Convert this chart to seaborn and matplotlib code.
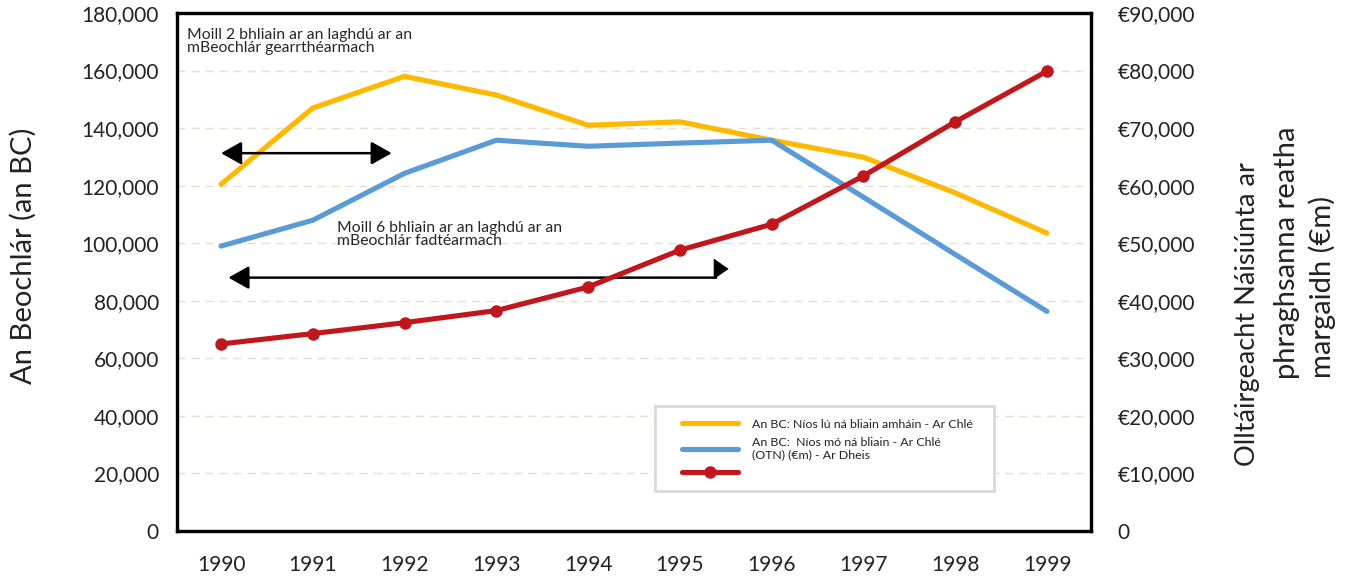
import matplotlib
matplotlib.use("Agg")
import matplotlib.pyplot as plt
import seaborn as sns
from matplotlib.ticker import FuncFormatter, FixedLocator
from matplotlib.lines import Line2D
from matplotlib.legend_handler import HandlerLine2D

# ---------------- data ----------------
years = [1990, 1991, 1992, 1993, 1994, 1995, 1996, 1997, 1998, 1999]
year_labels = [str(y) for y in years]

# An BC: less than one year (left axis)
short_term = [120500, 147000, 158000, 151500, 141000, 142200, 135800, 129900, 117500, 103500]
# An BC: more than one year (left axis)
long_term = [99000, 108000, 124300, 135800, 133700, 134800, 135800, 116000, 96100, 76300]
# GNP at current market prices, EUR m (right axis)
gnp = [32500, 34300, 36200, 38300, 42400, 48800, 53300, 61700, 71100, 79900]

left_ticks = [0, 20000, 40000, 60000, 80000, 100000, 120000, 140000, 160000, 180000]
right_ticks = [0, 10000, 20000, 30000, 40000, 50000, 60000, 70000, 80000, 90000]

label_short = "An BC: Níos lú ná bliain amháin - Ar Chlé   "
label_long = "An BC:  Níos mó ná bliain - Ar Chlé\n(OTN) (€m) - Ar Dheis"
label_gnp = ""

left_title = "An Beochlár (an BC)"
right_title_lines = ["Olltáirgeacht Náisiúnta ar", "phraghsanna reatha", "margaidh (€m)"]
note_short = "Moill 2 bhliain ar an laghdú ar an\nmBeochlár gearrthéarmach"
note_long = "Moill 6 bhliain ar an laghdú ar an\nmBeochlár fadtéarmach"

# annotation arrow anchors (data units)
short_arrow = dict(x0=1990.0, x1=1991.86, y=131300)
long_arrow = dict(x0=1990.08, xc=1995.39, xt=1995.53, y0=88050, y1=91070)

# ---------------- style ----------------
sns.set_theme(style="white")
plt.rcParams["font.family"] = ["Lato", "DejaVu Sans"]
plt.rcParams["text.color"] = "#222222"

YELLOW = "#FFB800"
BLUE = "#5B9BD5"
RED = "#C0171C"
GRID = "#E4DFCF"

fig = plt.figure(figsize=(13.48, 5.76), dpi=100)
ax = fig.add_axes([0.1313, 0.0781, 0.6781, 0.8993])
ax2 = ax.twinx()

sns.lineplot(x=years, y=short_term, ax=ax, color=YELLOW, linewidth=3.7, legend=False)
sns.lineplot(x=years, y=long_term, ax=ax, color=BLUE, linewidth=3.7, legend=False)
sns.lineplot(x=years, y=gnp, ax=ax2, color=RED, linewidth=3.7, marker="o",
             markersize=9, markeredgewidth=0, legend=False)

for a in (ax, ax2):
    a.set_xlim(1989.52, 1999.48)
    a.set_xlabel("")
    a.set_ylabel("")
    for s in a.spines.values():
        s.set_visible(True)
        s.set_color("black")
        s.set_linewidth(2.3)

ax.set_ylim(0, 180000)
ax2.set_ylim(0, 90000)
ax.yaxis.set_major_locator(FixedLocator(left_ticks))
ax2.yaxis.set_major_locator(FixedLocator(right_ticks))
ax.yaxis.set_major_formatter(FuncFormatter(lambda v, p: f"{v:,.0f}"))
ax2.yaxis.set_major_formatter(FuncFormatter(lambda v, p: "0" if v == 0 else f"€{v:,.0f}"))
ax.set_xticks(years)
ax.set_xticklabels(year_labels)

ax.tick_params(axis="y", length=0, labelsize=15, pad=13, labelcolor="#222222")
ax.tick_params(axis="x", length=0, labelsize=15, pad=17, labelcolor="#222222")
ax2.tick_params(axis="y", length=0, labelsize=15, pad=19, labelcolor="#222222")

ax.set_axisbelow(True)
ax.yaxis.grid(True, color=GRID, linewidth=1.0, linestyle=(0, (5.8, 4.3)))
ax.xaxis.grid(False)
ax2.grid(False)

# axis titles
fig.text(23 / 1348, 1 - 256 / 576, left_title, rotation=90, ha="center", va="center",
         fontsize=21, color="#222222")
right_pos = [(1248, 314, 19.5), (1287, 253, 21), (1322, 287, 21)]
for line, (px, py, fs) in zip(right_title_lines, right_pos):
    fig.text(px / 1348, 1 - py / 576, line, rotation=90, ha="center", va="center",
             fontsize=fs, color="#222222")

# notes
ax.text(0.011, 0.972, note_short, transform=ax.transAxes, ha="left", va="top",
        fontsize=11.3, linespacing=0.95, color="#262626")
ax.text(0.175, 0.599, note_long, transform=ax.transAxes, ha="left", va="top",
        fontsize=11.3, linespacing=0.95, color="#262626")

# arrows
ax.annotate("", xy=(short_arrow["x0"], short_arrow["y"]), xytext=(short_arrow["x1"], short_arrow["y"]),
            arrowprops=dict(arrowstyle="<|-|>,head_length=1.25,head_width=0.7", mutation_scale=10,
                            color="black", lw=1.8, shrinkA=0, shrinkB=0))
ax.annotate("", xy=(long_arrow["x0"], long_arrow["y0"]), xytext=(long_arrow["xc"], long_arrow["y0"]),
            arrowprops=dict(arrowstyle="-|>,head_length=1.25,head_width=0.7", mutation_scale=10,
                            color="black", lw=1.8, shrinkA=0, shrinkB=0))
ax.annotate("", xy=(long_arrow["xc"], long_arrow["y1"]), xytext=(long_arrow["xc"], long_arrow["y0"]),
            arrowprops=dict(arrowstyle="-", color="black", lw=1.8, shrinkA=0, shrinkB=0))
ax.annotate("", xy=(long_arrow["xt"], long_arrow["y1"]), xytext=(long_arrow["xc"] - 0.01, long_arrow["y1"]),
            arrowprops=dict(arrowstyle="-|>,head_length=1.0,head_width=0.7", mutation_scale=10,
                            color="black", lw=0.5, shrinkA=0, shrinkB=0))

# legend
handles = [ax.lines[0], ax.lines[1], ax2.lines[0]]
leg = ax2.legend(handles, [label_short, label_long, label_gnp], loc="upper left",
                 bbox_to_anchor=(0.523, 0.241), fontsize=8.9, frameon=True, fancybox=False,
                 edgecolor="#D9D9D9", framealpha=1, borderpad=1.0, handlelength=5.7,
                 handletextpad=1.13, labelspacing=0.58, borderaxespad=0,
                 handler_map={Line2D: HandlerLine2D(xpad=1.18)})
leg.get_frame().set_linewidth(2)

fig.savefig("out.png", dpi=100)
